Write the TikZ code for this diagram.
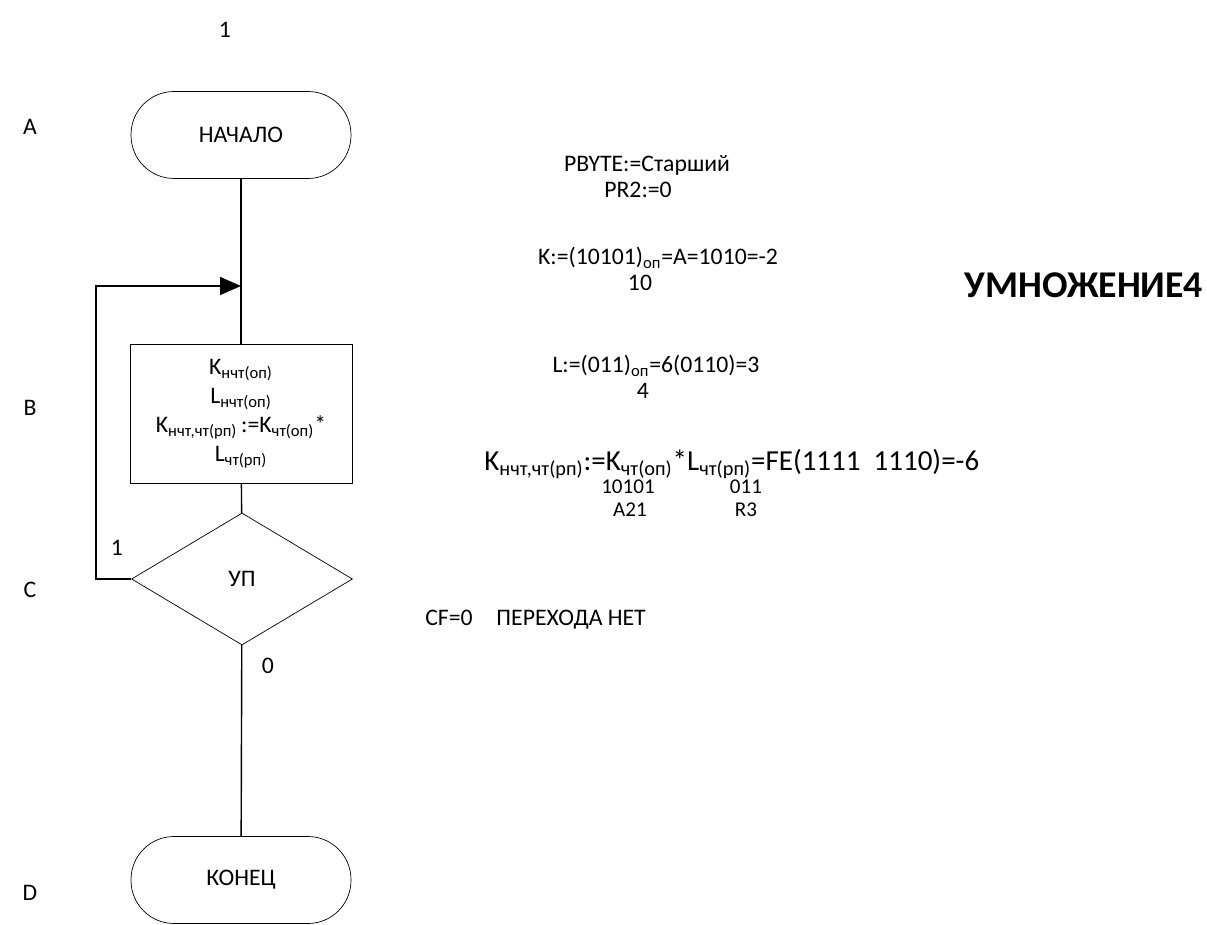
\documentclass[tikz,border=0pt]{standalone}
\usepackage{fontspec}
\setmainfont{Carlito}
\usetikzlibrary{shapes.geometric,arrows.meta}
\newcommand{\idx}[1]{\textsubscript{#1}}
\tikzset{
    every node/.style={inner sep=0mm, font=\fontsize{13.5}{17}\selectfont}
}
\tikzset{
    term/.style={draw, rectangle, rounded corners=8.6mm, minimum width=44mm, minimum height=17.4mm},
    proc/.style={draw, rectangle, minimum width=44.4mm, minimum height=27.8mm, align=center, font=\fontsize{13.5}{16.5}\selectfont},
    cond/.style={draw, diamond, minimum width=44.2mm, minimum height=26.4mm},
    flow/.style={line width=0.8pt},
    digits/.style={font=\fontsize{12}{13}\selectfont}
}

\begin{document}
\begin{tikzpicture}[x=0.02cm, y=-0.02cm]
        \useasboundingbox (0,0) rectangle (1207,925);
        \node (n1) at (225,30) {1};
        \node (la) at (30,127) {A};
        \node (lb) at (30,408) {B};
        \node (lc) at (30,590) {C};
        \node (ld) at (30,893) {D};
        \node (start) [term] at (241,135) {НАЧАЛО};
        \node (proc) [proc] at (241,414) {K\idx{нчт(оп)}\\L\idx{нчт(оп)}\\K\idx{нчт,чт(рп)}\,:=K\idx{чт(оп)}*\\L\idx{чт(рп)}};
        \node (dec) [cond] at (242,579) {УП};
        \node (stop) [term] at (241,880) {КОНЕЦ};
        \coordinate (join) at (241,286);
        \coordinate (loop) at (96,579);
        \node (one) at (117,548) {1};
        \node (zero) at (268,666) {0};
        \draw[flow] (start) -- (proc);
        \draw[flow] (proc) -- (dec);
        \draw[flow] (dec) -- (stop);
        \draw[flow, -{Triangle[length=4.2mm, width=3.6mm]}] (dec.west) -- (loop) |- (join);
        % notes on the right
        \node (pbyte) at (647,165) {PBYTE:=Старший};
        \node (pr2) at (638,190) {PR2:=0};
        \node (kval) at (658,258) {K:=(10101)\idx{оп}=A=1010=-2};
        \node (kbase) at (640,283) {10};
        \node (lval) at (656,366) {L:=(011)\idx{оп}=6(0110)=3};
        \node (lbase) at (643,391) {4};
        \node (prod) [anchor=west, font=\fontsize{16.5}{18}\selectfont] at (484,464) {K\idx{нчт,чт(рп)}:=K\idx{чт(оп)}*L\idx{чт(рп)}=FE(1111~~1110)=-6};
        \node (ka) [digits] at (628,487) {10101};
        \node (la2) [digits] at (746,487) {011};
        \node (kreg) [digits] at (630,510) {A21};
        \node (lreg) [digits] at (746,510) {R3};
        \node (cf) [anchor=west] at (425,620) {CF=0\quad ПЕРЕХОДА НЕТ};
        \node (title) at (1084,285) {\fontsize{21.5}{23}\selectfont\bfseries УМНОЖЕНИЕ4};
\end{tikzpicture}
\end{document}
